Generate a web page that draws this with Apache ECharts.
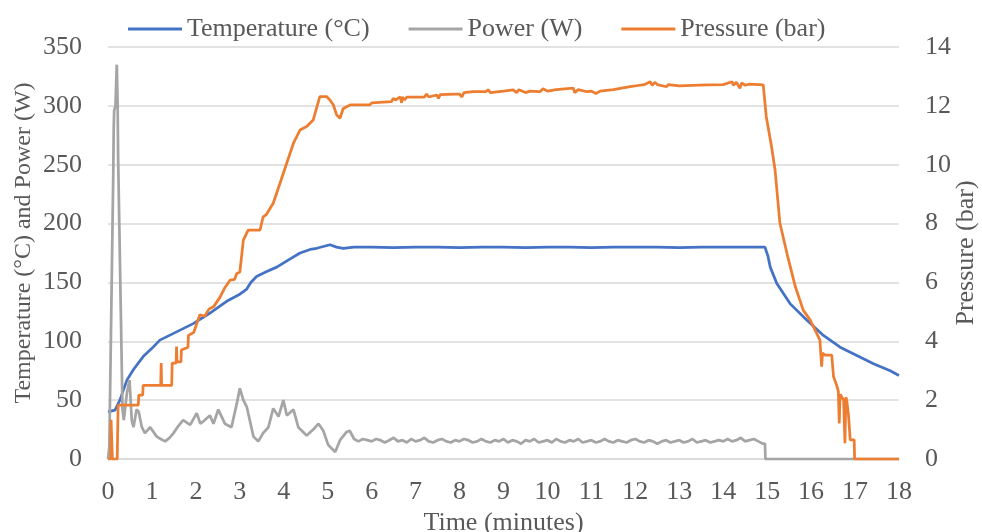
<!DOCTYPE html>
<html>
<head>
<meta charset="utf-8">
<script src="https://cdn.jsdelivr.net/npm/echarts@6/dist/echarts.min.js"></script>
<style>html,body{margin:0;padding:0;background:#fff;}#c{width:982px;height:532px;}</style>
</head>
<body>
<div id="c"></div>
<script>
const xTicks = [0,1,2,3,4,5,6,7,8,9,10,11,12,13,14,15,16,17,18];
const leftTicks = [0,50,100,150,200,250,300,350];
const rightTicks = [0,2,4,6,8,10,12,14];

// [time (min), temperature (°C)]
const temperature = [
  [0,40],[0.16,41.5],[0.27,50],[0.43,67],[0.58,76],[0.8,87],[1.0,94],[1.18,101],[1.56,108],[1.94,115],
  [2.32,124],[2.7,134],[3.0,140],[3.15,144],[3.25,150],[3.38,155],[3.6,159],[3.84,163],[4.1,169],[4.37,175],
  [4.6,178],[4.75,179],[4.9,180.5],[5.05,182],[5.2,180],[5.35,179],[5.6,180],[6,180],[6.5,179.5],[7,180],
  [7.5,180],[8,179.5],[8.5,180],[9,180],[9.5,179.5],[10,180],[10.5,180],[11,179.5],[11.5,180],[12,180],
  [12.5,180],[13,179.5],[13.5,180],[14,180],[14.5,180],[14.95,180],[15.02,172],[15.07,163],[15.22,149],[15.52,132],
  [15.9,118],[16.28,105],[16.66,95],[17.04,88],[17.42,81],[17.8,75],[18,71]
];

// [time (min), power (W)]
const power = [
  [0,0],[0.03,10],[0.12,243],[0.13,280],[0.14,296],[0.17,300],[0.2,335],[0.22,300],[0.23,257],[0.29,129],
  [0.33,42],[0.36,33],[0.43,56],[0.49,67],[0.54,33],[0.58,27],[0.65,42],[0.7,40],[0.77,27],[0.84,22],
  [0.96,27],[1.11,19],[1.2,17],[1.3,15],[1.4,18],[1.49,22],[1.6,28],[1.71,33],[1.87,29],[2.02,39],
  [2.1,30],[2.17,32],[2.32,37],[2.4,30],[2.51,42],[2.66,30],[2.81,27],[2.93,47],[3.0,60],[3.08,50],
  [3.16,44],[3.31,19],[3.42,15],[3.53,22],[3.65,27],[3.76,43],[3.88,36],[3.99,50],[4.07,37],[4.22,42],
  [4.33,27],[4.52,20],[4.67,25],[4.79,30],[4.9,24],[5.01,12],[5.17,6],[5.28,16],[5.43,23],[5.5,24],
  [5.6,17],[5.7,15],[5.8,17],[5.9,16],[6.0,15],[6.1,17],[6.2,16],[6.3,14],[6.4,16],[6.5,18],
  [6.6,15],[6.7,16],[6.8,14],[6.9,17],[7.0,15],[7.1,16],[7.2,18],[7.3,15],[7.4,14],[7.5,16],
  [7.6,17],[7.7,15],[7.8,14],[7.9,16],[8.0,15],[8.1,17],[8.2,16],[8.3,14],[8.4,15],[8.5,17],
  [8.6,15],[8.7,14],[8.8,16],[8.9,15],[9.0,17],[9.1,14],[9.2,16],[9.3,15],[9.4,13],[9.5,16],
  [9.6,15],[9.7,17],[9.8,14],[9.9,15],[10.0,16],[10.1,14],[10.2,17],[10.3,15],[10.4,14],[10.5,16],
  [10.6,15],[10.7,17],[10.8,14],[10.9,15],[11.0,16],[11.1,14],[11.2,15],[11.3,17],[11.4,15],[11.5,14],
  [11.6,16],[11.7,15],[11.8,14],[11.9,16],[12.0,17],[12.1,15],[12.2,14],[12.3,16],[12.4,15],[12.5,13],
  [12.6,15],[12.7,16],[12.8,14],[12.9,15],[13.0,16],[13.1,14],[13.2,15],[13.3,17],[13.4,14],[13.5,15],
  [13.6,16],[13.7,14],[13.8,15],[13.9,16],[14.0,15],[14.1,17],[14.2,15],[14.3,16],[14.4,18],[14.5,15],
  [14.6,16],[14.7,17],[14.8,15],[14.9,13],[14.95,13],[14.96,0],[18,0]
];

// [time (min), pressure (bar)]
const pressure = [
  [0,0],[0.06,0],[0.07,1.33],[0.09,1.33],[0.1,0],[0.21,0],[0.23,1.83],[0.69,1.83],[0.7,2.17],[0.79,2.17],
  [0.8,2.5],[1.2,2.5],[1.21,3.26],[1.22,2.5],[1.45,2.5],[1.46,3.26],[1.55,3.26],[1.56,3.82],[1.57,3.3],[1.66,3.3],
  [1.67,3.7],[1.82,3.8],[1.83,4.2],[1.95,4.3],[2.09,4.9],[2.2,4.85],[2.3,5.1],[2.4,5.17],[2.55,5.5],[2.65,5.8],
  [2.78,6.08],[2.88,6.1],[2.93,6.3],[3.0,6.35],[3.08,7.44],[3.19,7.78],[3.46,7.78],[3.53,8.23],[3.6,8.3],[3.76,8.69],
  [3.99,9.71],[4.22,10.73],[4.37,11.18],[4.52,11.3],[4.67,11.52],[4.82,12.31],[4.98,12.31],[5.05,12.2],[5.13,12.03],[5.2,11.7],
  [5.28,11.58],[5.35,11.9],[5.43,11.97],[5.51,12.03],[5.96,12.03],[6.0,12.1],[6.04,12.14],[6.45,12.14],[6.49,12.25],[6.55,12.2],
  [6.65,12.31],[6.68,12.1],[6.7,12.3],[6.75,12.2],[6.8,12.3],[7.2,12.3],[7.25,12.4],[7.3,12.3],[7.48,12.37],[7.52,12.25],
  [7.56,12.38],[7.9,12.4],[8.0,12.4],[8.05,12.3],[8.1,12.45],[8.31,12.48],[8.6,12.48],[8.65,12.55],[8.7,12.45],[9.0,12.5],
  [9.22,12.54],[9.3,12.45],[9.35,12.55],[9.5,12.45],[9.6,12.5],[9.83,12.48],[9.9,12.58],[10.0,12.5],[10.2,12.55],[10.59,12.6],
  [10.62,12.45],[10.7,12.55],[10.9,12.48],[11.0,12.5],[11.1,12.42],[11.2,12.5],[11.5,12.55],[11.88,12.65],[12.1,12.7],[12.2,12.72],
  [12.34,12.82],[12.38,12.7],[12.45,12.8],[12.5,12.72],[12.71,12.65],[12.75,12.72],[13.0,12.68],[13.3,12.7],[13.63,12.71],[14.0,12.72],
  [14.2,12.82],[14.23,12.7],[14.3,12.8],[14.38,12.6],[14.42,12.78],[14.5,12.7],[14.6,12.74],[14.91,12.71],[14.98,11.63],[15.1,10.61],
  [15.18,9.82],[15.29,8.01],[15.45,6.99],[15.64,5.86],[15.82,5.06],[15.98,4.72],[16.13,4.26],[16.2,4.04],[16.23,4.0],[16.24,3.14],
  [16.26,3.6],[16.32,3.53],[16.47,3.53],[16.51,2.8],[16.58,2.51],[16.62,2.3],[16.64,1.21],[16.66,2.2],[16.7,2.17],[16.74,2.0],
  [16.77,0.54],[16.79,2.1],[16.81,2.0],[16.85,1.5],[16.89,0.65],[16.98,0.65],[16.99,0],[18,0]
];

const FONT = 'Liberation Serif';
const TXT = '#595959';
const GRID = '#d9d9d9';
const FS = 26;

const chart = echarts.init(document.getElementById('c'), null, {renderer: 'canvas'});
chart.setOption({
  backgroundColor: '#fff',
  animation: false,
  textStyle: {fontFamily: FONT, color: TXT},
  legend: {
    top: 11, left: 123,
    icon: 'rect',
    itemWidth: 54, itemHeight: 3, itemGap: 39,
    textStyle: {fontFamily: FONT, fontSize: FS, color: TXT},
    data: ['Temperature (°C)', 'Power (W)', 'Pressure (bar)']
  },
  grid: {left: 108, right: 83, top: 47, bottom: 73, containLabel: false, outerBoundsMode: 'none'},
  xAxis: {
    type: 'value', min: xTicks[0], max: xTicks[xTicks.length - 1], interval: 1,
    name: 'Time (minutes)', nameLocation: 'middle', nameGap: 51, nameMoveOverlap: false,
    nameTextStyle: {fontFamily: FONT, fontSize: FS, color: TXT},
    axisLine: {show: true, lineStyle: {color: GRID, width: 1.5}},
    axisTick: {show: false},
    splitLine: {show: false},
    axisLabel: {fontFamily: FONT, fontSize: FS, color: TXT, margin: 20}
  },
  yAxis: [{
    type: 'value', min: leftTicks[0], max: leftTicks[leftTicks.length - 1], interval: 50,
    name: 'Temperature (°C) and Power (W)', nameLocation: 'middle', nameGap: 72, nameRotate: 90,
    nameMoveOverlap: false,
    nameTextStyle: {fontFamily: FONT, fontSize: 24, color: TXT, padding: [0, 0, 0, 20]},
    axisLine: {show: false}, axisTick: {show: false},
    splitLine: {show: true, lineStyle: {color: GRID, width: 1.5}},
    axisLabel: {fontFamily: FONT, fontSize: FS, color: TXT, margin: 26}
  }, {
    type: 'value', min: rightTicks[0], max: rightTicks[rightTicks.length - 1], interval: 2,
    name: 'Pressure (bar)', nameLocation: 'middle', nameGap: 54, nameRotate: 90,
    nameMoveOverlap: false,
    nameTextStyle: {fontFamily: FONT, fontSize: FS, color: TXT},
    axisLine: {show: false}, axisTick: {show: false},
    splitLine: {show: false},
    axisLabel: {fontFamily: FONT, fontSize: FS, color: TXT, margin: 26}
  }],
  series: [{
    name: 'Temperature (°C)', type: 'line', yAxisIndex: 0, symbol: 'none',
    data: temperature,
    lineStyle: {color: '#4472C4', width: 2.75}, itemStyle: {color: '#4472C4'}
  }, {
    name: 'Power (W)', type: 'line', yAxisIndex: 0, symbol: 'none',
    data: power,
    lineStyle: {color: '#A5A5A5', width: 2.75}, itemStyle: {color: '#A5A5A5'}
  }, {
    name: 'Pressure (bar)', type: 'line', yAxisIndex: 1, symbol: 'none',
    data: pressure,
    lineStyle: {color: '#ED7D31', width: 2.75}, itemStyle: {color: '#ED7D31'}
  }]
});
</script>
</body>
</html>
